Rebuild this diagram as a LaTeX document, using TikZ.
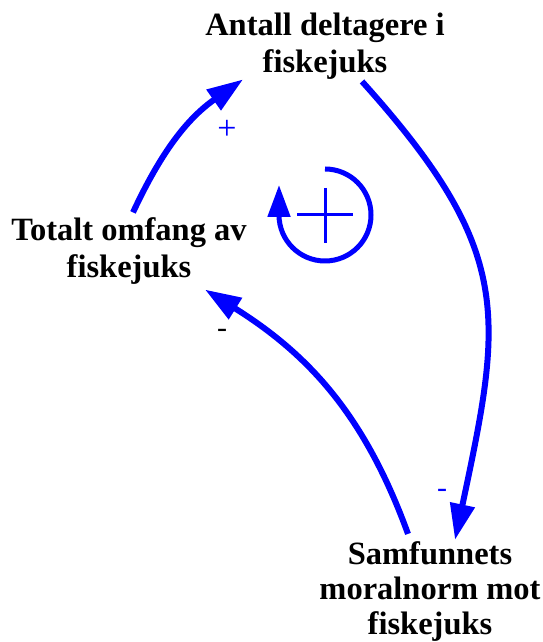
\documentclass[tikz,border=0pt]{standalone}
\usepackage{fontspec}
\setmainfont{Liberation Serif}
\usetikzlibrary{arrows.meta}

\begin{document}
\begin{tikzpicture}[x=1pt, y=1pt,
        var/.style={font=\bfseries\fontsize{32.5}{37}\selectfont, align=center, inner sep=0pt},
        link/.style={blue, line width=6pt, -{Triangle[length=36pt, width=24pt]}},
        pol/.style={font=\fontsize{30}{30}\selectfont}]
                \useasboundingbox (0,0) rectangle (542,642);

                \node[var] (ant) at (325,596) {Antall deltagere i\\fiskejuks};
                \node[var] (tot) at (129,391) {Totalt omfang av\\fiskejuks};
                \node[var, font=\bfseries\fontsize{32.5}{35}\selectfont] (samf) at (430,50) {Samfunnets\\moralnorm mot\\fiskejuks};

                \draw[link] ([xshift=4pt, yshift=5pt]tot.north) to[out=65, in=215] ([xshift=38pt]ant.south west);
                \draw[link] ([xshift=37pt, yshift=-2pt]ant.south) to[out=-48, in=78, looseness=1.25] ([xshift=25pt, yshift=2pt]samf.north);
                \draw[link] ([xshift=-22pt, yshift=8pt]samf.north) to[out=110, in=-32] ([xshift=76pt, yshift=-5pt]tot.south);

                \node[pol, blue, font=\fontsize{34}{34}\selectfont] (p1) at (227,512) {+};
                \node[pol, blue] (p2) at (442,149) {-};
                \node[pol] (p3) at (222,309) {-};

                % loop marker
                \draw[blue, line width=5pt, -{Triangle[length=32pt, width=22pt]}] (325,473) arc[start angle=90, end angle=-180, radius=46] -- ++(0,30);
                \draw[blue, line width=3pt] (297,427) -- (353,427) (325,454) -- (325,399);
            \end{tikzpicture}
\end{document}
